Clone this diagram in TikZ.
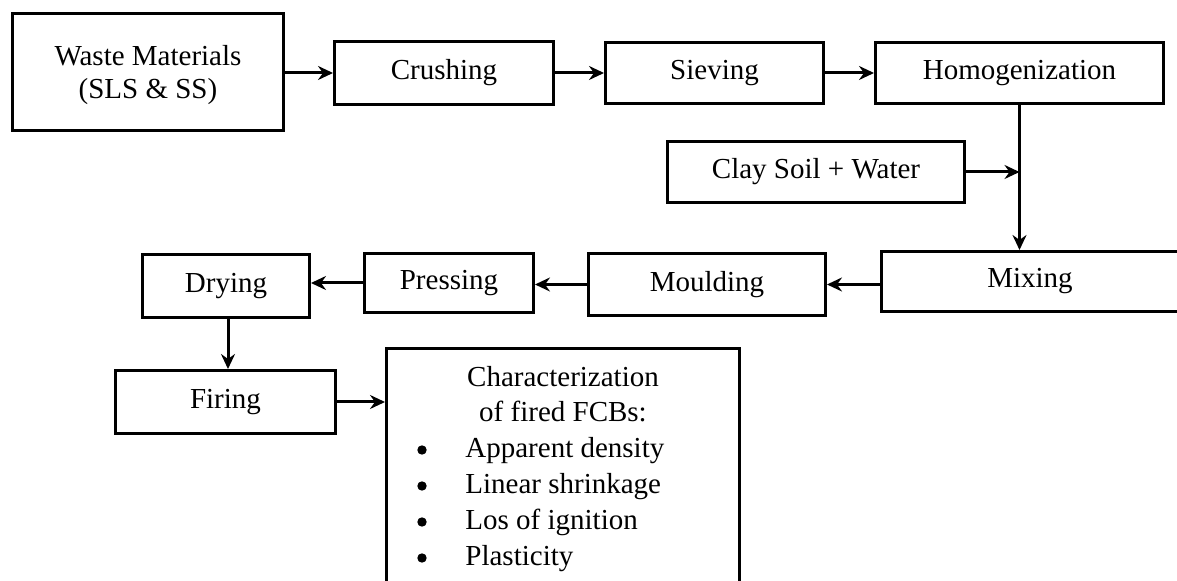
\documentclass[tikz,border=0pt]{standalone}
\usepackage{fontspec}
\setmainfont{Liberation Serif}
\usetikzlibrary{arrows.meta}

\tikzset{
  stage/.style={draw, line width=1.5pt, inner sep=0pt, align=center},
  dot/.style={circle, fill=black, inner sep=0pt, minimum size=4.7pt},
  flow/.style={line width=1.5pt, -{Stealth[length=7.5pt,width=7pt,inset=2.5pt]}}
}

\begin{document}
\begin{tikzpicture}[x=0.5pt, y=-0.5pt, font=\fontsize{14.5}{17.6}\selectfont]
    \useasboundingbox (0,0) rectangle (1177,581);

    % top row
    \node [stage, minimum width=135.5pt, minimum height=58.5pt, text depth=0pt] (waste) at (148,72) {Waste Materials\\[-1pt](SLS \& SS)};
    \node [stage, minimum width=109.5pt, minimum height=31.5pt] (crush) at (444,73) {Crushing};
    \node [stage, minimum width=109pt, minimum height=30.5pt] (sieve) at (714.5,73) {Sieving};
    \node [stage, minimum width=144pt, minimum height=30.5pt] (homog) at (1019.5,73) {Homogenization};

    \node [stage, minimum width=148.5pt, minimum height=30.5pt] (clay) at (816,172) {Clay Soil + Water};

    % middle row
    \node [stage, minimum width=148.5pt, minimum height=30pt] (mix) at (1030,281.5) {Mixing};
    \node [stage, minimum width=118.5pt, minimum height=31pt] (moul) at (707,284.5) {Moulding};
    \node [stage, minimum width=84.5pt, minimum height=29.5pt] (press) at (449,283) {Pressing};
    \node [stage, minimum width=83.5pt, minimum height=31.5pt] (dry) at (226,286) {Drying};

    % bottom row
    \node [stage, minimum width=110pt, minimum height=31.5pt] (fire) at (225.5,402) {Firing};
    \node [stage, minimum width=176.5pt, minimum height=135pt] (char) at (563,483.5) {};

    \node [align=center, anchor=base] (charhead) at (563,422) {Characterization\\of fired FCBs:};
    \node [dot] (b1) at (422,450) {};
    \node [dot] (b2) at (422,486) {};
    \node [dot] (b3) at (422,522) {};
    \node [dot] (b4) at (422,558) {};
    \node [anchor=base west, inner sep=0pt] (item1) at (465,458) {Apparent density};
    \node [anchor=base west, inner sep=0pt] (item2) at (465,494) {Linear shrinkage};
    \node [anchor=base west, inner sep=0pt] (item3) at (465,530) {Los of ignition};
    \node [anchor=base west, inner sep=0pt] (item4) at (465,566) {Plasticity};

    % connectors
    \draw [flow] (waste.east |- crush.west) -- (crush.west);
    \draw [flow] (crush.east) -- (sieve.west);
    \draw [flow] (sieve.east) -- (homog.west);
    \draw [flow] (homog.south) -- (homog.south |- mix.north);
    \coordinate (join) at (homog.south |- clay.east);
    \draw [flow] (clay.east) -- (join);
    \draw [flow] (mix.west |- moul.east) -- (moul.east);
    \draw [flow] (moul.west) -- (moul.west -| press.east);
    \draw [flow] (press.west) -- (press.west -| dry.east);
    \draw [flow] (dry.south -| 228,0) -- (fire.north -| 228,0);
    \draw [flow] (fire.east) -- (fire.east -| char.west);
\end{tikzpicture}
\end{document}
